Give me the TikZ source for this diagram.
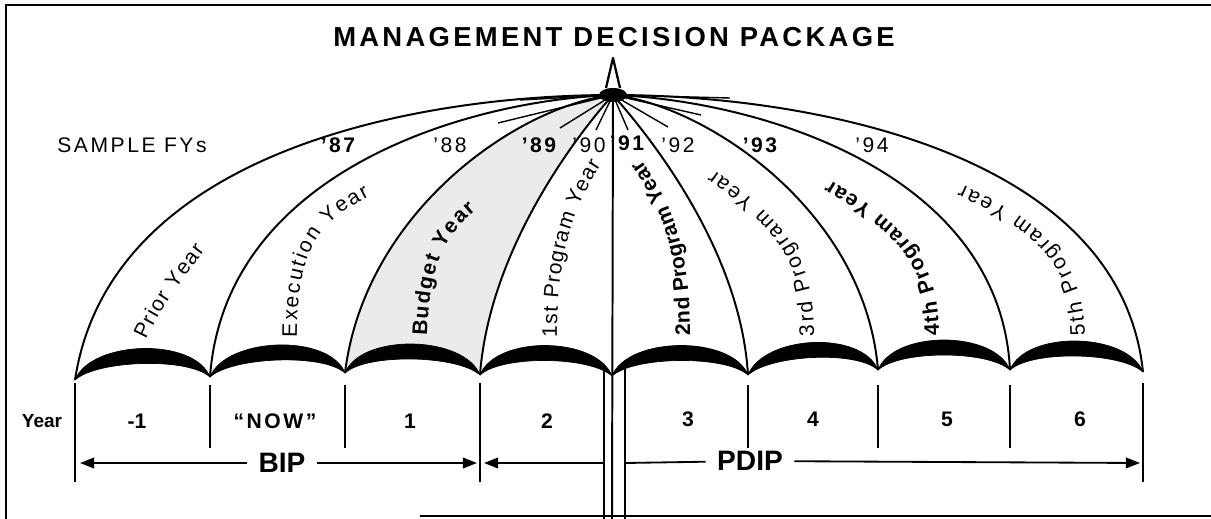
\documentclass[tikz,border=0pt]{standalone}
\usepackage{fontspec}
\setmainfont{Liberation Sans}
\newfontfamily\trackfont[LetterSpace=12]{Liberation Sans}
\newfontfamily\titlefont[LetterSpace=12]{Liberation Sans}
\usetikzlibrary{arrows.meta}
\usetikzlibrary{decorations.text}
\newcommand{\panelfont}{\fontsize{15}{18}\selectfont}
\newcommand{\panelbold}{\bfseries\fontsize{15}{18}\selectfont}
\tikzset{ rib_line/.style = {line width=1.4pt} }
\tikzset{ divider/.style = {line width=1.4pt} }
\tikzset{ scallop/.style = {fill=black, draw=black, line width=0.5pt, line join=round} }
\tikzset{ span_line/.style = {line width=1.3pt} }
\tikzset{ span_arrow/.style = {line width=1.3pt, -{Triangle[length=10pt,width=7.5pt]}} }
\tikzset{ fy/.style = {font=\trackfont\fontsize{15}{18}\selectfont, inner sep=0pt} }
\tikzset{ fy_bold/.style = {font=\trackfont\bfseries\fontsize{15}{18}\selectfont, inner sep=0pt} }
\tikzset{ year_num/.style = {font=\bfseries\fontsize{15}{18}\selectfont, inner sep=0pt} }
\tikzset{ span_label/.style = {font=\bfseries\fontsize{20}{24}\selectfont, inner xsep=8pt, inner ysep=0pt} }
\tikzset{ panel_label/.style = {decorate, decoration={text along path, text align={fit to path}, text={|\panelfont|#1}}} }
\tikzset{ panel_bold/.style = {decorate, decoration={text along path, text align={fit to path}, text={|\panelbold|#1}}} }

\begin{document}
\begin{tikzpicture}[x=0.025cm,y=-0.025cm]
  \useasboundingbox (0,0) rectangle (1211,519);
  % frame
  \draw[line width=2pt] (1211,5) -- (6,5) -- (6,519);
  \draw[line width=2pt] (420,516) -- (1211,516);

  \node[font=\titlefont\bfseries\fontsize{19.5}{23}\selectfont] (title) at (614,37) {MANAGEMENT DECISION PACKAGE};

  \coordinate (apex) at (613,95);
  \coordinate (r0) at (75,380);
  \coordinate (r1) at (210,377);
  \coordinate (r2) at (345,373);
  \coordinate (r3) at (480,375);
  \coordinate (r4) at (612,376);
  \coordinate (r5) at (748,375);
  \coordinate (r6) at (878,370);
  \coordinate (r7) at (1010,370);
  \coordinate (r8) at (1143,372);

  % budget year panel
  \fill[black!8] (apex) .. controls (520,105) and (365,210) .. (r2)
        .. controls +(16,-40) and +(-16,-40) .. (r3)
        .. controls (490,240) and (590,120) .. (apex);

  % ribs
  \foreach \p/\q/\r in {{420,95}/{110,150}/r0, {470,100}/{225,170}/r1,
        {520,105}/{365,210}/r2, {590,120}/{490,240}/r3,
        {635,120}/{740,240}/r5, {705,105}/{865,210}/r6,
        {755,100}/{1000,170}/r7, {805,95}/{1120,150}/r8}
    \draw[rib_line] (apex) .. controls (\p) and (\q) .. (\r);
  \foreach \e in {{498,123},{520,100},{560,128},{596,130},{628,130},{668,127},{701,115},{730,98}}
    \draw[line width=1pt] (apex) -- (\e);

  % scallops
  \foreach \a/\b in {r0/r1, r1/r2, r2/r3, r3/r4, r4/r5, r5/r6, r6/r7, r7/r8}
    \draw[scallop] (\a) .. controls +(16,-40) and +(-16,-40) .. (\b)
        .. controls +(-22,-20) and +(22,-20) .. (\a);

  % pole and tip
  \draw[rib_line] (apex) -- (612,519);
  \draw[rib_line] (604,366) -- (604,519);
  \draw[rib_line] (625,364) -- (625,519);
  \draw[line width=1.6pt, line join=round] (606,88) -- (613,58) -- (620,88);
  \fill (apex) ellipse (14 and 7);

  % panel texts
  \path[panel_label=Prior Year] (146,340) .. controls (162,305) and (182,280) .. (205,250);
  \path[panel_label=Execution Year] (297,337) .. controls (297,250) and (318,222) .. (370,196);
  \path[panel_bold=Budget Year] (427,336) .. controls (430,270) and (440,240) .. (476,210);
  \path[panel_label=1st Program Year] (557,337) .. controls (557,250) and (575,205) .. (601,165);
  \path[panel_bold=2nd Program Year] (690,335) .. controls (690,250) and (673,205) .. (641,160);
  \path[panel_label=3rd Program Year] (814,336) .. controls (814,260) and (790,225) .. (714,170);
  \path[panel_bold=4th Program Year] (939,336) .. controls (939,260) and (905,225) .. (830,180);
  \path[panel_label=5th Program Year] (1085,336) .. controls (1083,265) and (1050,225) .. (962,185);

  % fiscal years
  \node[fy] (fys) at (132,145) {SAMPLE FYs};
  \node[fy_bold] (fy87) at (338,145) {’87};
  \node[fy] (fy88) at (450,145) {’88};
  \node[fy_bold] (fy89) at (539,145) {’89};
  \node[fy] (fy90) at (589,145) {’90};
  \node[fy_bold] (fy91) at (627,143) {’91};
  \node[fy] (fy92) at (678,145) {’92};
  \node[fy_bold] (fy93) at (760,145) {’93};
  \node[fy] (fy94) at (872,145) {’94};

  % year band
  \foreach \x in {210,345,748,878,1010}
    \draw[divider] (\x,385) -- (\x,448);
  \foreach \x in {75,480,1143}
    \draw[divider] (\x,383) -- (\x,482);
  \node[font=\bfseries\fontsize{13.5}{16}\selectfont] (yr) at (42,421) {Year};
  \node[year_num] (y0) at (137,421) {-1};
  \node[year_num, font=\trackfont\bfseries\fontsize{15}{18}\selectfont] (y1) at (275,421) {“NOW”};
  \node[year_num] (y2) at (410,421) {1};
  \node[year_num] (y3) at (547,421) {2};
  \node[year_num] (y4) at (688,419) {3};
  \node[year_num] (y5) at (813,419) {4};
  \node[year_num] (y6) at (947,419) {5};
  \node[year_num] (y7) at (1080,419) {6};

  % spans
  \coordinate (bip_l) at (80,463);
  \coordinate (bip_r) at (477,463);
  \coordinate (pdip_l) at (484,463);
  \coordinate (pole_l) at (604,463);
  \coordinate (pole_r) at (625,463);
  \coordinate (pdip_r) at (1140,463);
  \node[span_label] (BIP) at (282,463) {BIP};
  \node[span_label] (PDIP) at (750,461) {PDIP};
  \draw[span_arrow] (BIP) -- (bip_l);
  \draw[span_arrow] (BIP) -- (bip_r);
  \draw[span_arrow] (pole_l) -- (pdip_l);
  \draw[span_line] (pole_r) -- (PDIP);
  \draw[span_arrow] (PDIP) -- (pdip_r);
\end{tikzpicture}
\end{document}
